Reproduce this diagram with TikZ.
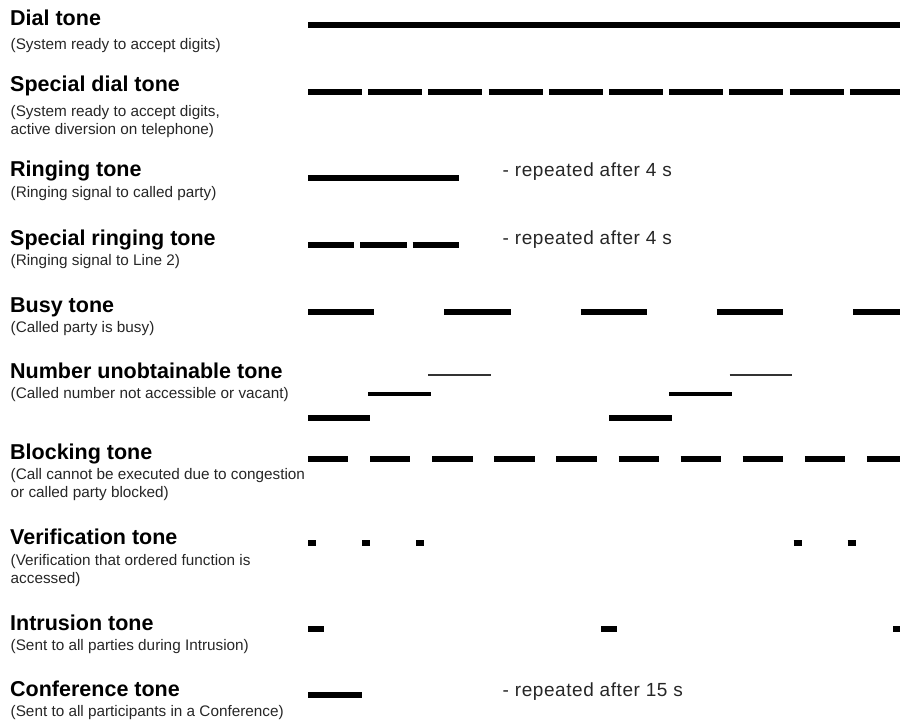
\documentclass[tikz,border=0pt]{standalone}
\usepackage{fontspec}
\setmainfont{Liberation Sans}
\newfontfamily\repfont[LetterSpace=3]{Liberation Sans}
\begin{document}
\begin{tikzpicture}[x=1bp,y=-1bp,
  ttl/.style={anchor=base west,inner sep=0pt,font=\fontsize{21.5bp}{25bp}\selectfont\bfseries},
  sub/.style={anchor=base west,inner sep=0pt,text=black!85,font=\fontsize{15.3bp}{18bp}\selectfont},
  rep/.style={anchor=base west,inner sep=0pt,text=black!85,font=\fontsize{19bp}{21bp}\repfont},
  tone/.style={line width=6bp},
  thinbar/.style={line width=2bp,draw=black!80},
  midbar/.style={line width=3.8bp},
]
\useasboundingbox (0,0) rectangle (900,722);

% ---------- left labels ----------
\node[ttl] (t1) at (10,26) {Dial tone};
\node[sub] (s1) at (10.5,50) {(System ready to accept digits)};

\node[ttl] (t2) at (10,91.7) {Special dial tone};
\node[sub] (s2a) at (10.5,116.5) {(System ready to accept digits,};
\node[sub] (s2b) at (10.5,135) {active diversion on telephone)};

\node[ttl] (t3) at (10,176.7) {Ringing tone};
\node[sub] (s3) at (10.5,197.5) {(Ringing signal to called party)};

\node[ttl] (t4) at (10,245) {Special ringing tone};
\node[sub] (s4) at (10.5,265.3) {(Ringing signal to Line 2)};

\node[ttl] (t5) at (10,312.7) {Busy tone};
\node[sub] (s5) at (10.5,332.7) {(Called party is busy)};

\node[ttl] (t6) at (10,378) {Number unobtainable tone};
\node[sub] (s6) at (10.5,398.7) {(Called number not accessible or vacant)};

\node[ttl] (t7) at (10,459.3) {Blocking tone};
\node[sub] (s7a) at (10.5,479.5) {(Call cannot be executed due to congestion};
\node[sub] (s7b) at (10.5,497.8) {or called party blocked)};

\node[ttl] (t8) at (10,544.3) {Verification tone};
\node[sub] (s8a) at (10.5,565) {(Verification that ordered function is};
\node[sub] (s8b) at (10.5,583.3) {accessed)};

\node[ttl] (t9) at (10,630) {Intrusion tone};
\node[sub] (s9) at (10.5,650) {(Sent to all parties during Intrusion)};

\node[ttl] (t10) at (10,696) {Conference tone};
\node[sub] (s10) at (10.5,716.5) {(Sent to all participants in a Conference)};

% ---------- right notes ----------
\node[rep] (r3) at (502.5,176.7) {- repeated after 4 s};
\node[rep] (r4) at (502.5,244.3) {- repeated after 4 s};
\node[rep] (r10) at (502.5,696) {- repeated after 15 s};

% ---------- tone patterns ----------
% Dial tone
\draw[tone] (308,25.3) -- (900,25.3);
% Special dial tone
\foreach \k in {0,...,9}{
  \pgfmathsetmacro{\xa}{308+60.2*\k}
  \pgfmathsetmacro{\xb}{min(\xa+54,900)}
  \draw[tone] (\xa,92.3) -- (\xb,92.3);
}
% Ringing tone
\draw[tone] (308,177.7) -- (459,177.7);
% Special ringing tone
\foreach \k in {0,1,2}{
  \pgfmathsetmacro{\xa}{308+52.3*\k}
  \draw[tone] (\xa,244.7) -- ++(46.3,0);
}
% Busy tone
\foreach \k in {0,...,4}{
  \pgfmathsetmacro{\xa}{308+136.3*\k}
  \pgfmathsetmacro{\xb}{min(\xa+66.3,900)}
  \draw[tone] (\xa,311.7) -- (\xb,311.7);
}
% Number unobtainable tone
\foreach \k in {0,1}{
  \pgfmathsetmacro{\xa}{308+301.2*\k}
  \draw[tone] (\xa,417.7) -- ++(62.3,0);
  \draw[midbar] (\xa+60,394.2) -- ++(62.7,0);
  \draw[thinbar] (\xa+120.3,375) -- ++(62.4,0);
}
% Blocking tone
\foreach \k in {0,...,9}{
  \pgfmathsetmacro{\xa}{308+62.1*\k}
  \pgfmathsetmacro{\xb}{min(\xa+40.3,900)}
  \draw[tone] (\xa,458.7) -- (\xb,458.7);
}
% Verification tone
\foreach \xa in {308,362,416,793.7,847.7}{
  \draw[tone] (\xa,543.3) -- ++(8,0);
}
% Intrusion tone
\draw[tone] (308,629.3) -- (324,629.3);
\draw[tone] (601,629.3) -- (617,629.3);
\draw[tone] (893.2,629.3) -- (900,629.3);
% Conference tone
\draw[tone] (308,695) -- (362.3,695);
\end{tikzpicture}
\end{document}
